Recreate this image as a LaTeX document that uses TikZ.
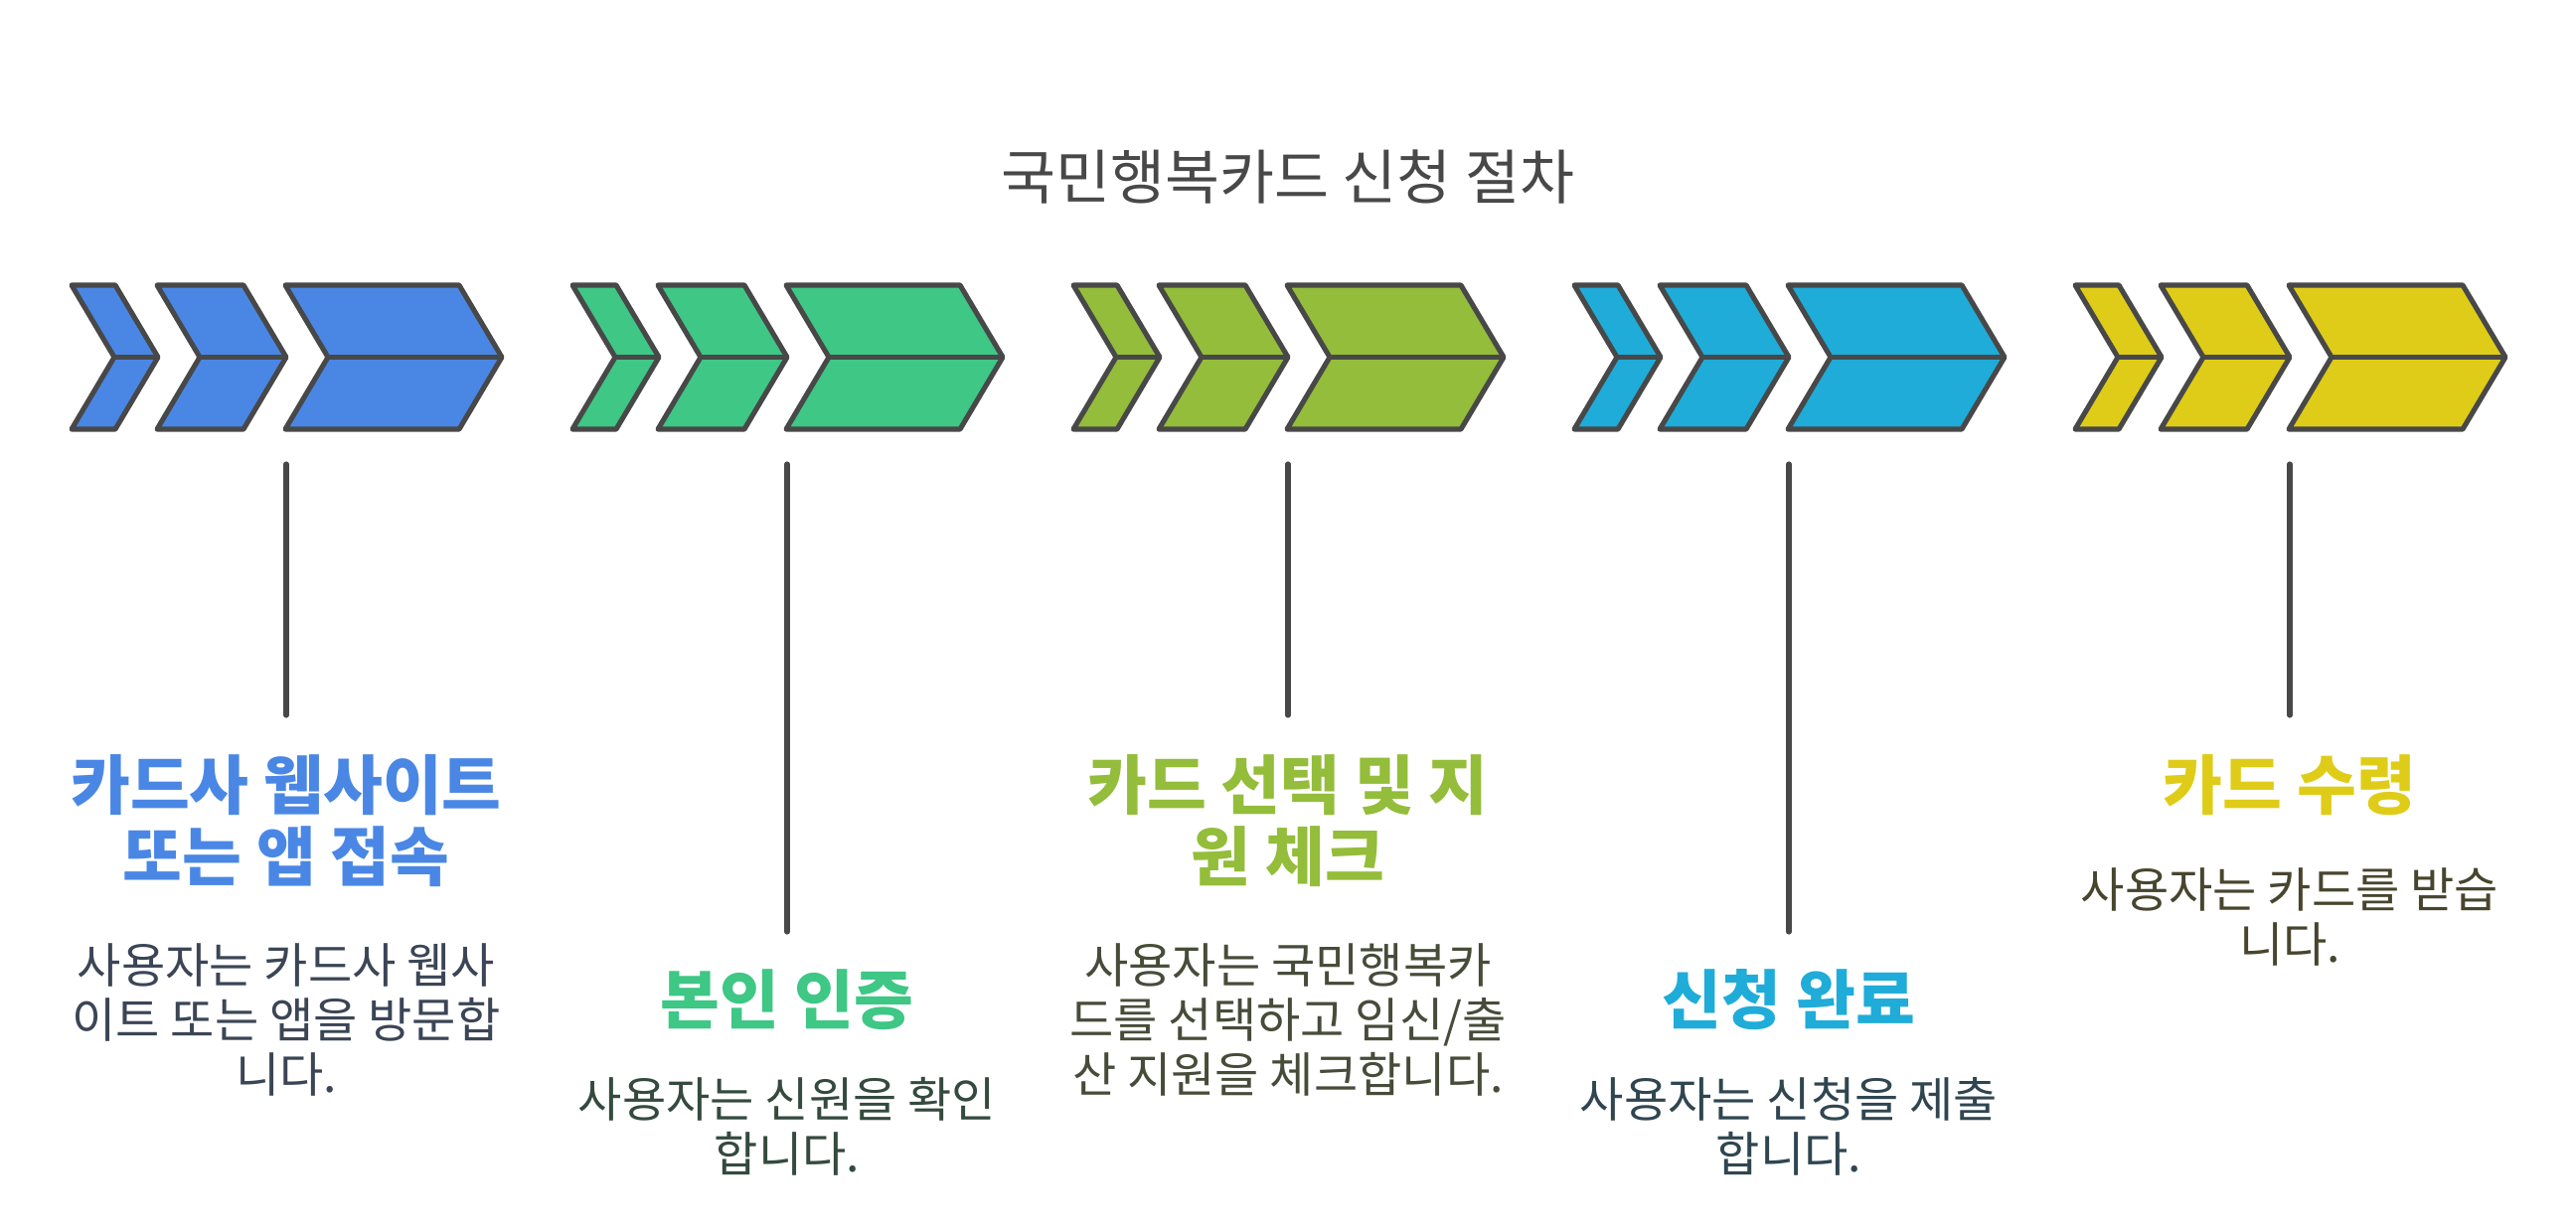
\documentclass[tikz,border=0pt]{standalone}
\usepackage{fontspec}
\usepackage{tikz}
\newfontfamily\krfont{Noto Sans CJK KR}
\definecolor{kblue}{RGB}{74,135,229}
\definecolor{kgreen}{RGB}{62,199,133}
\definecolor{kolive}{RGB}{147,189,58}
\definecolor{kcyan}{RGB}{31,172,217}
\definecolor{kyellow}{RGB}{223,204,24}
\definecolor{kline}{RGB}{72,72,72}
\definecolor{done}{RGB}{59,69,86}
\definecolor{dtwo}{RGB}{52,74,63}
\definecolor{dthree}{RGB}{71,76,57}
\definecolor{dfour}{RGB}{47,70,81}
\definecolor{dfive}{RGB}{72,69,46}

\begin{document}
\begin{tikzpicture}[
  chev/.style={draw=kline, line width=1.45pt, line join=round},
  stem/.style={draw=kline, line width=1.45pt, line cap=round},
  head/.style={align=center, inner sep=0pt, font=\krfont\bfseries\fontsize{18.5}{20.5}\selectfont},
  desc/.style={align=center, inner sep=0pt, font=\krfont\fontsize{13.7}{15.65}\selectfont}]
\useasboundingbox (0,0) rectangle (25.92,-12.38);
\node[text=kline, font=\krfont\fontsize{17}{20}\selectfont] (title) at (12.96,-1.78) {국민행복카드 신청 절차};
% chevrons
\foreach \i/\col in {0/kblue,1/kgreen,2/kolive,3/kcyan,4/kyellow}{
  \begin{scope}[xshift=\i*5.04cm]
  \foreach \l/\w in {0.72/0.44,1.58/0.87,2.87/1.75}{
    \draw [chev, fill=\col] (\l,-2.87) -- ++(\w,0) -- ++(0.43,-0.725) -- ++(-0.43,-0.725) -- ++(-\w,0) -- ++(0.43,0.725) -- cycle;
    \draw [chev] (\l+0.43,-3.595) -- ++(\w,0);
  }
  \end{scope}
}
% stems
\coordinate (s1) at (2.88,-4.67);   \coordinate (e1) at (2.88,-7.20);
\coordinate (s2) at (7.92,-4.67);   \coordinate (e2) at (7.92,-9.38);
\coordinate (s3) at (12.96,-4.67);  \coordinate (e3) at (12.96,-7.20);
\coordinate (s4) at (18.00,-4.67);  \coordinate (e4) at (18.00,-9.38);
\coordinate (s5) at (23.04,-4.67);  \coordinate (e5) at (23.04,-7.20);
\draw [stem] (s1) -- (e1);
\draw [stem] (s2) -- (e2);
\draw [stem] (s3) -- (e3);
\draw [stem] (s4) -- (e4);
\draw [stem] (s5) -- (e5);
% labels
\node[head, text=kblue] (h1) at (2.88,-8.26) {카드사 웹사이트\\또는 앱 접속};
\node[desc, text=done] (d1) at (2.88,-10.26) {사용자는 카드사 웹사\\이트 또는 앱을 방문합\\니다.};
\node[head, text=kgreen] (h2) at (7.92,-10.06) {본인 인증};
\node[desc, text=dtwo] (d2) at (7.92,-11.34) {사용자는 신원을 확인\\합니다.};
\node[head, text=kolive] (h3) at (12.96,-8.26) {카드 선택 및 지\\원 체크};
\node[desc, text=dthree] (d3) at (12.96,-10.26) {사용자는 국민행복카\\드를 선택하고 임신/출\\산 지원을 체크합니다.};
\node[head, text=kcyan] (h4) at (18.00,-10.06) {신청 완료};
\node[desc, text=dfour] (d4) at (18.00,-11.34) {사용자는 신청을 제출\\합니다.};
\node[head, text=kyellow] (h5) at (23.04,-7.90) {카드 수령};
\node[desc, text=dfive] (d5) at (23.04,-9.23) {사용자는 카드를 받습\\니다.};

\end{tikzpicture}
\end{document}
